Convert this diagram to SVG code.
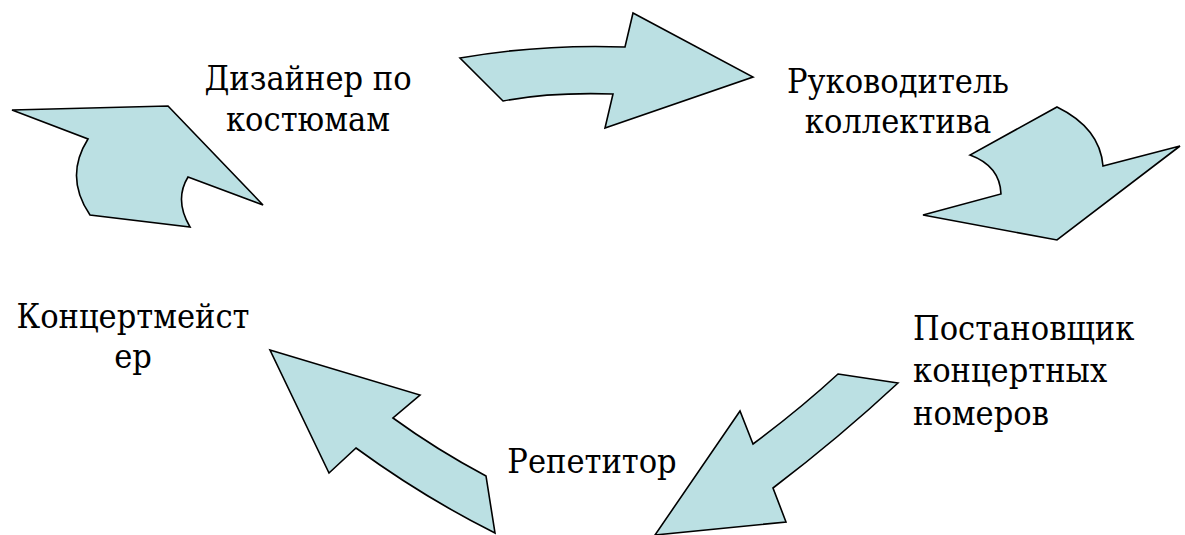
<svg xmlns="http://www.w3.org/2000/svg" width="1185" height="535" viewBox="0 0 1185 535">
<style>
.arr{fill:#bbe0e3;stroke:#000;stroke-width:1.6;stroke-linejoin:miter}
.lbl{font-family:"DejaVu Serif Condensed","DejaVu Serif",serif;font-stretch:condensed;font-size:34px;fill:#000}
.c{text-anchor:middle}
</style>
<rect width="1185" height="535" fill="#fff"/>
<g id="connectors">
<path id="arrow-top" class="arr" d="M460,58 Q540,44 625,47 L633,13 L753,77 L605,128 L613,94 Q550,92 503,101 Z"/>
<path id="arrow-right" class="arr" d="M1057,107 Q1100,128 1103,166 L1180,146 L1057,240 L923,215 L1001,194 Q1000,166 970,155 Z"/>
<path id="arrow-bottom-right" class="arr" d="M838,374 L898,383 Q840,437 773,488 L786,522 L655,535 L740,411 L753,444 Q800,409 838,374 Z"/>
<path id="arrow-bottom-left" class="arr" d="M270,350 L420,395 L393,418 Q437,450 486,476 L495,533 Q423,497 356,448 L329,473 Z"/>
<path id="arrow-left" class="arr" d="M12,110 L168,106 L263,205 L188,177 Q174,200 190,227 L90,215 Q64,177 88,139 Z"/>
</g>
<g id="node-designer">
<text class="lbl c" x="308" y="90">Дизайнер по</text>
<text class="lbl c" x="308" y="131">костюмам</text>
</g>
<g id="node-leader">
<text class="lbl c" x="898" y="93">Руководитель</text>
<text class="lbl c" x="898" y="133">коллектива</text>
</g>
<g id="node-director">
<text class="lbl" x="913" y="340">Постановщик</text>
<text class="lbl" x="913" y="382">концертных</text>
<text class="lbl" x="913" y="425">номеров</text>
</g>
<g id="node-repetitor">
<text class="lbl c" x="592" y="473">Репетитор</text>
</g>
<g id="node-accompanist">
<text class="lbl c" x="133" y="328">Концертмейст</text>
<text class="lbl c" x="133" y="368">ер</text>
</g>
</svg>
